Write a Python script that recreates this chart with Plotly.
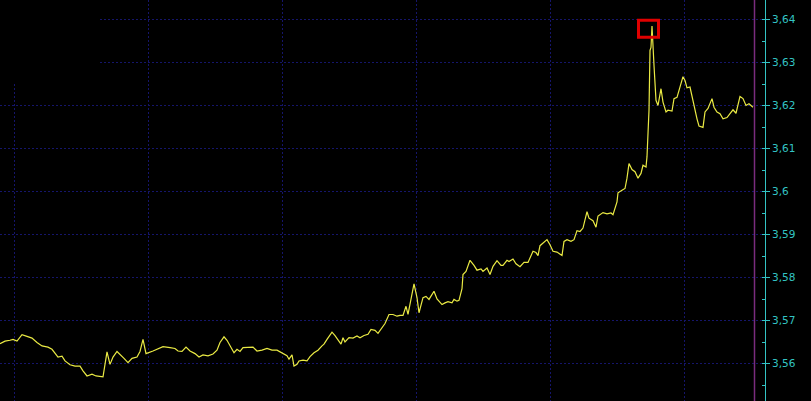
import plotly.graph_objects as go

# sample index (time axis) and price values
t = [0, 5, 10, 13, 17, 22, 27, 32, 37, 42, 48, 52, 58, 62, 65, 70, 75, 80, 83, 87,
     92, 96, 103, 107, 110, 113, 117, 120, 124, 128, 132, 137, 140, 143, 146, 153, 163, 170, 175, 178,
     182, 186, 190, 195, 199, 203, 208, 213, 217, 220, 224, 227, 231, 234, 237, 240, 243, 248, 253, 257,
     262, 267, 272, 277, 282, 287, 289, 292, 294, 297, 299, 303, 307, 310, 314, 318, 322, 324, 327, 329,
     332, 335, 338, 341, 343, 345, 349, 353, 357, 360, 364, 368, 371, 375, 378, 382, 385, 389, 393, 397,
     400, 403, 406, 408, 411, 414, 417, 419, 423, 426, 429, 434, 437, 442, 445, 448, 452, 454, 457, 459,
     462, 463, 466, 470, 474, 477, 481, 483, 487, 490, 493, 497, 501, 503, 507, 509, 513, 516, 520, 524,
     528, 533, 536, 538, 540, 543, 547, 550, 553, 557, 562, 564, 567, 571, 574, 577, 580, 583, 587, 589,
     593, 596, 598, 603, 607, 611, 613, 617, 618, 622, 625, 627, 629, 632, 635, 638, 641, 643, 646, 647,
     648, 649, 650, 651, 652, 653, 654, 656, 658, 661, 663, 666, 668, 672, 674, 677, 680, 683, 685, 687,
     690, 693, 697, 699, 703, 705, 708, 712, 714, 717, 720, 723, 727, 730, 733, 736, 740, 743, 746, 749,
     753]

price = [3.5646, 3.5652, 3.5654, 3.5656, 3.5652, 3.5667, 3.5663, 3.5659, 3.5649, 3.5641,
         3.5638, 3.5633, 3.5615, 3.5617, 3.5606, 3.5597, 3.5594, 3.5594, 3.5583, 3.5571,
         3.5575, 3.5571, 3.5569, 3.5627, 3.5598, 3.5615, 3.5628, 3.5622, 3.5612, 3.5602,
         3.5612, 3.5615, 3.5628, 3.5656, 3.5623, 3.5629, 3.5639, 3.5637, 3.5635, 3.5629,
         3.5628, 3.5638, 3.5629, 3.5623, 3.5615, 3.5620, 3.5618, 3.5622, 3.5631, 3.5649,
         3.5662, 3.5654, 3.5637, 3.5625, 3.5633, 3.5628, 3.5637, 3.5637, 3.5638, 3.5629,
         3.5631, 3.5635, 3.5631, 3.5631, 3.5625, 3.5618, 3.5610, 3.5620, 3.5594, 3.5598,
         3.5606, 3.5608, 3.5606, 3.5616, 3.5625, 3.5631, 3.5641, 3.5645, 3.5656, 3.5663,
         3.5673, 3.5665, 3.5656, 3.5645, 3.5660, 3.5650, 3.5660, 3.5659, 3.5664, 3.5660,
         3.5665, 3.5668, 3.5679, 3.5677, 3.5670, 3.5683, 3.5693, 3.5714, 3.5714, 3.5710,
         3.5712, 3.5712, 3.5733, 3.5714, 3.5749, 3.5785, 3.5753, 3.5718, 3.5753, 3.5756,
         3.5749, 3.5768, 3.5750, 3.5737, 3.5741, 3.5744, 3.5741, 3.5749, 3.5745, 3.5747,
         3.5774, 3.5807, 3.5814, 3.5840, 3.5828, 3.5817, 3.5820, 3.5814, 3.5822, 3.5807,
         3.5826, 3.5839, 3.5828, 3.5828, 3.5840, 3.5837, 3.5843, 3.5832, 3.5825, 3.5835,
         3.5835, 3.5861, 3.5858, 3.5851, 3.5874, 3.5880, 3.5888, 3.5876, 3.5861, 3.5859,
         3.5851, 3.5884, 3.5888, 3.5884, 3.5888, 3.5909, 3.5907, 3.5915, 3.5953, 3.5938,
         3.5932, 3.5917, 3.5943, 3.5951, 3.5948, 3.5950, 3.5946, 3.5976, 3.5997, 3.6003,
         3.6007, 3.6031, 3.6065, 3.6051, 3.6046, 3.6031, 3.6042, 3.6061, 3.6057, 3.6081,
         3.6127, 3.6189, 3.6328, 3.6335, 3.6385, 3.6331, 3.6293, 3.6212, 3.6200, 3.6239,
         3.6208, 3.6185, 3.6189, 3.6187, 3.6216, 3.6219, 3.6243, 3.6267, 3.6258, 3.6241,
         3.6243, 3.6208, 3.6169, 3.6152, 3.6149, 3.6185, 3.6193, 3.6216, 3.6196, 3.6185,
         3.6181, 3.6169, 3.6172, 3.6181, 3.6190, 3.6182, 3.6221, 3.6216, 3.6200, 3.6204,
         3.6196]

now_t = 754.5        # current-time marker
x_range = [0, 765]
y_range = [3.5512791, 3.6445349]
grid_t0, grid_dt = 14.5, 134

GRID = "#15156a"
CYAN = "#33c4c4"

fig = go.Figure()
fig.add_trace(go.Scatter(x=t, y=price, mode="lines",
                         line=dict(color="#eaea44", width=1.2), hoverinfo="skip"))

# highlight box around the maximum
i_max = max(range(len(price)), key=lambda i: price[i])
tm, pm = t[i_max], price[i_max]
fig.add_shape(type="rect", xref="x", yref="y",
              x0=tm - 13.5, x1=tm + 6.5, y0=pm - 0.0026, y1=pm + 0.0013,
              line=dict(color="#e00000", width=3), layer="above")

# current time marker
fig.add_shape(type="line", xref="x", yref="paper", x0=now_t, x1=now_t, y0=0, y1=1,
              line=dict(color="#7a2c7e", width=1.5), layer="above")

# blank area in the top-left corner
fig.add_shape(type="rect", xref="paper", yref="paper",
              x0=0, x1=100 / 765, y0=1 - 82 / 401, y1=1.01,
              fillcolor="black", line=dict(width=0), layer="above")

fig.update_layout(
    width=811, height=401,
    margin=dict(l=0, r=46, t=0, b=0),
    paper_bgcolor="black", plot_bgcolor="black",
    showlegend=False,
    separators=",.",
    xaxis=dict(range=x_range, showticklabels=False, ticks="",
               showgrid=True, gridcolor=GRID, griddash="2px,2px", gridwidth=1,
               tick0=grid_t0, dtick=grid_dt, zeroline=False, showline=False),
    yaxis=dict(range=y_range, side="right", dtick=0.01,
               showgrid=True, gridcolor=GRID, griddash="2px,2px", gridwidth=1,
               zeroline=False, showline=True, linecolor=CYAN, linewidth=1,
               ticks="outside", ticklen=4, tickcolor=CYAN,
               tickfont=dict(family="DejaVu Sans", size=10.5, color=CYAN),
               minor=dict(dtick=0.005, ticks="inside", ticklen=3, tickcolor=CYAN,
                          showgrid=False)),
)

fig.write_html("out.html",
               config={"displayModeBar": False, "staticPlot": True},
               post_script="document.body.style.margin='0px';"
                           "document.body.style.overflow='hidden';"
                           "document.body.style.background='black';")
